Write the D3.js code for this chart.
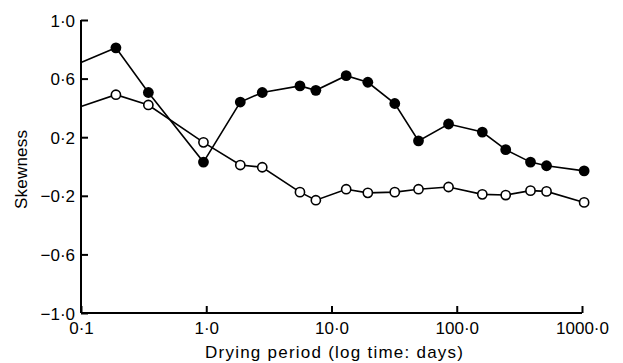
<!DOCTYPE html>
<html>
<head>
<meta charset="utf-8">
<script src="https://cdn.jsdelivr.net/npm/d3@7"></script>
<style>
  body { margin: 0; background: #fff; }
  svg { display: block; font-family: "Liberation Sans", Arial, sans-serif; }
</style>
</head>
<body>
<svg id="chart"></svg>
<script>
// drying time (days); first entry is where the lines leave the y axis (no marker)
const days = [0.1, 0.19, 0.345, 0.95, 1.87, 2.8, 5.6, 7.5, 13.1, 19.5, 32, 49.5, 86, 160, 246, 388, 521, 1040];
const filledSeries = [0.71, 0.81, 0.505, 0.03, 0.44, 0.505, 0.55, 0.52, 0.62, 0.575, 0.43, 0.175, 0.29, 0.235, 0.115, 0.03, 0.005, -0.03];
const openSeries = [0.41, 0.49, 0.42, 0.165, 0.01, -0.005, -0.175, -0.23, -0.155, -0.18, -0.175, -0.155, -0.14, -0.19, -0.195, -0.165, -0.17, -0.245];
const xTicks = [0.1, 1, 10, 100, 1000];
const xTickLabels = ['0·1', '1·0', '10·0', '100·0', '1000·0'];
const yTicks = [1.0, 0.6, 0.2, -0.2, -0.6, -1.0];
const yTickLabels = ['1·0', '0·6', '0·2', '−0·2', '−0·6', '−1·0'];

const W = 623, H = 363;
const margin = { top: 20, right: 41, bottom: 50, left: 81 };

const svg = d3.select('#chart').attr('width', W).attr('height', H);

const x = d3.scaleLog().domain([0.1, 1000]).range([margin.left, W - margin.right]);
const y = d3.scaleLinear().domain([-1, 1]).range([H - margin.bottom, margin.top]);

// x axis, ticks pointing up into the plot
const xAxis = svg.append('g')
  .attr('transform', `translate(0, ${y(-1)})`)
  .call(d3.axisBottom(x).tickValues(xTicks).tickSize(0).tickPadding(0).tickFormat((d, i) => xTickLabels[i]));
xAxis.select('.domain').remove();
xAxis.append('line')
  .attr('x1', x(0.1)).attr('x2', x(1000))
  .attr('stroke', '#000').attr('stroke-width', 2);
xAxis.selectAll('.tick line').attr('y2', -7).attr('stroke', '#000').attr('stroke-width', 2);
xAxis.selectAll('.tick text')
  .attr('y', 21).attr('dy', 0)
  .attr('fill', '#000').style('font-size', '17px');

// y axis, ticks pointing right
const yAxis = svg.append('g')
  .attr('transform', `translate(${x(0.1)}, 0)`)
  .call(d3.axisLeft(y).tickValues(yTicks).tickSize(0).tickPadding(0).tickFormat((d, i) => yTickLabels[i]));
yAxis.select('.domain').remove();
yAxis.append('line')
  .attr('y1', y(-1)).attr('y2', y(1))
  .attr('stroke', '#000').attr('stroke-width', 2);
yAxis.selectAll('.tick line').attr('x2', 7).attr('stroke', '#000').attr('stroke-width', 2);
yAxis.selectAll('.tick text')
  .attr('x', -6).attr('dy', '0.36em')
  .attr('fill', '#000').style('font-size', '17px');

// axis titles
svg.append('text')
  .attr('x', 334)
  .attr('y', 358)
  .attr('text-anchor', 'middle')
  .attr('textLength', 258)
  .attr('lengthAdjust', 'spacing')
  .style('font-size', '17px')
  .text('Drying period (log time: days)');

svg.append('text')
  .attr('transform', `translate(27, ${(y(1) + y(-1)) / 2 + 3}) rotate(-90)`)
  .attr('text-anchor', 'middle')
  .attr('textLength', 79)
  .attr('lengthAdjust', 'spacing')
  .style('font-size', '17px')
  .text('Skewness');

const line = d3.line().x(d => x(d[0])).y(d => y(d[1]));

const filledPts = days.map((t, i) => [t, filledSeries[i]]);
const openPts = days.map((t, i) => [t, openSeries[i]]);

[filledPts, openPts].forEach(pts => {
  svg.append('path')
    .datum(pts)
    .attr('d', line)
    .attr('fill', 'none')
    .attr('stroke', '#000')
    .attr('stroke-width', 1.6);
});

svg.append('g').selectAll('circle')
  .data(openPts.slice(1))
  .join('circle')
  .attr('cx', d => x(d[0]))
  .attr('cy', d => y(d[1]))
  .attr('r', 4.6)
  .attr('fill', '#fff')
  .attr('stroke', '#000')
  .attr('stroke-width', 1.6);

svg.append('g').selectAll('circle')
  .data(filledPts.slice(1))
  .join('circle')
  .attr('cx', d => x(d[0]))
  .attr('cy', d => y(d[1]))
  .attr('r', 5.4)
  .attr('fill', '#000');
</script>
</body>
</html>
